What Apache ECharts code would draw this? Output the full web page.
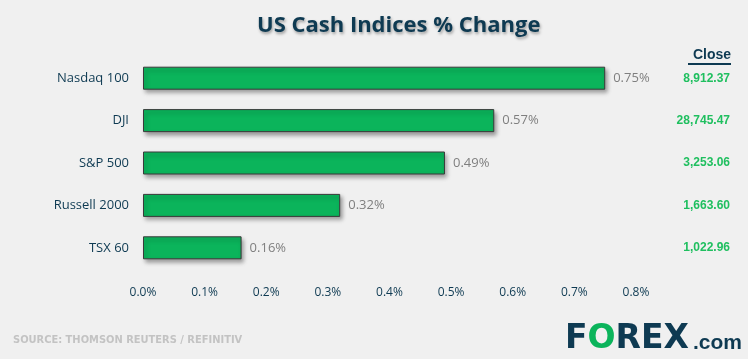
<!DOCTYPE html>
<html><head><meta charset="utf-8">
<script src="https://cdn.jsdelivr.net/npm/echarts@6/dist/echarts.min.js"></script>
<style>html,body{margin:0;padding:0;background:#f0f0f0}#c{width:748px;height:359px}</style>
</head><body><div id="c"></div>
<script>
var categories = ['Nasdaq 100', 'DJI', 'S&P 500', 'Russell 2000', 'TSX 60'];
var changes = [0.75, 0.57, 0.49, 0.32, 0.16];
var closeValues = ['8,912.37', '28,745.47', '3,253.06', '1,663.60', '1,022.96'];
var xTicks = [0, 0.1, 0.2, 0.3, 0.4, 0.5, 0.6, 0.7, 0.8];

var chart = echarts.init(document.getElementById('c'), null, {renderer: 'canvas'});
var navy = '#0e3a52';
chart.setOption({
  backgroundColor: '#f0f0f0',
  animation: false,
  title: {
    text: 'US Cash Indices % Change',
    left: 252, top: 10,
    textStyle: {
      fontFamily: 'Open Sans', fontWeight: 'bold', fontSize: 22, color: navy,
      textShadowColor: 'rgba(0,0,0,0.35)', textShadowBlur: 3, textShadowOffsetX: 1, textShadowOffsetY: 2
    }
  },
  grid: {left: 143, right: 112, top: 57, bottom: 90, containLabel: false},
  xAxis: {
    type: 'value', min: xTicks[0], max: xTicks[xTicks.length - 1], interval: 0.1,
    splitLine: {show: false}, axisLine: {show: false}, axisTick: {show: false},
    axisLabel: {
      margin: 18, color: navy, fontFamily: 'Open Sans', fontSize: 12,
      formatter: function (v) { return v.toFixed(1) + '%'; }
    }
  },
  yAxis: [{
    type: 'category', data: categories, inverse: true,
    axisLine: {show: false}, axisTick: {show: false},
    axisLabel: {margin: 14, color: navy, fontFamily: 'Open Sans', fontSize: 13}
  }, {
    type: 'category', data: categories, inverse: true, position: 'right',
    axisLine: {show: false}, axisTick: {show: false},
    axisLabel: {
      margin: 94, align: 'right', color: '#1fbf5f', fontFamily: 'Liberation Sans', fontWeight: 'bold', fontSize: 12,
      padding: [10, 0, 0, 0],
      formatter: function (v, i) { return closeValues[i]; }
    }
  }],
  series: [{
    type: 'bar', data: changes, barWidth: 23, yAxisIndex: 0,
    itemStyle: {
      color: '#0bb45b', borderColor: '#3a3a3a', borderWidth: 1,
      shadowColor: 'rgba(0,0,0,0.35)', shadowBlur: 4, shadowOffsetX: 2, shadowOffsetY: 3
    },
    label: {
      show: true, position: 'right', distance: 8, color: '#7f7f7f', fontFamily: 'Open Sans', fontSize: 13,
      formatter: function (p) { return p.value.toFixed(2) + '%'; }
    }
  }],
  graphic: [
    {type: 'text', x: 731, y: 55, style: {text: 'Close', fill: navy, align: 'right', verticalAlign: 'middle', font: 'bold 14px "Liberation Sans", sans-serif'}},
    {type: 'line', shape: {x1: 688, y1: 64, x2: 731, y2: 64}, style: {stroke: navy, lineWidth: 2}},
    {type: 'text', x: 13, y: 340, style: {text: 'SOURCE: THOMSON REUTERS / REFINITIV', fill: '#c3c3c3', verticalAlign: 'middle', font: 'bold 11px "Liberation Sans Narrow", "DejaVu Sans Condensed", sans-serif'}},
    {type: 'text', x: 565, y: 339, style: {
      text: '{n|F}{g|O}{n|REX}', verticalAlign: 'middle',
      rich: {
        n: {fill: navy, font: 'bold 33px "DejaVu Sans", sans-serif'},
        g: {fill: '#0bb45b', font: 'bold 33px "DejaVu Sans", sans-serif'}
      }
    }},
    {type: 'text', x: 693, y: 343, style: {text: '.com', fill: navy, verticalAlign: 'middle', font: 'bold 21px "Liberation Sans Narrow", sans-serif'}}
  ]
});
</script></body></html>
